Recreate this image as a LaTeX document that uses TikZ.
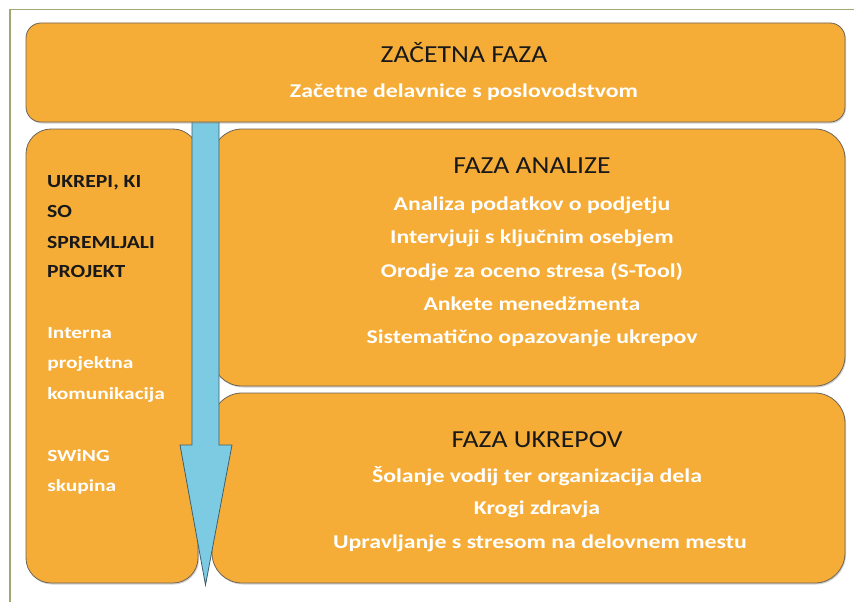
\documentclass[tikz,border=0pt]{standalone}
\usepackage{fontspec}
\setmainfont{Carlito}
\usetikzlibrary{shadows}
\definecolor{orng}{HTML}{F5AD38}
\definecolor{arrblue}{HTML}{7CCBE3}
\definecolor{framecol}{HTML}{9EAA72}
\definecolor{edgecol}{HTML}{6E6456}
\definecolor{arredge}{HTML}{3E5F6E}
\begin{document}
\begin{tikzpicture}[x=1pt,y=-1pt,
  box/.style={fill=orng, draw=edgecol, line width=0.8pt, inner sep=0pt,
    drop shadow={shadow xshift=1pt, shadow yshift=-1.5pt, opacity=0.35}},
  head/.style={font=\fontsize{24.5}{28}\selectfont, text=black!90, anchor=base, inner sep=0pt, xscale=1.13, transform shape},
  item/.style={font=\bfseries\fontsize{19.5}{23}\selectfont, text=white, anchor=base, inner sep=0pt, xscale=1.22, transform shape},
  lhead/.style={font=\bfseries\fontsize{18.5}{22}\selectfont, text=black!90, anchor=base west, inner sep=0pt, xscale=1.17, transform shape},
  litem/.style={font=\bfseries\fontsize{17}{20}\selectfont, text=white, anchor=base west, inner sep=0pt, xscale=1.26, transform shape}]
\useasboundingbox (0,0) rectangle (854,602);
\fill[white] (0,0) rectangle (854,602);
\draw[framecol, line width=1.3pt] (10,602) -- (10,9.5) -- (854,9.5);

% left box
\node[box, rounded corners=25pt, minimum width=172pt, minimum height=454pt] (left) at (112,356) {};
% right boxes
\node[box, rounded corners=30pt, minimum width=633pt, minimum height=257pt] (analiza) at (528.5,257.5) {};
\node[box, rounded corners=30pt, minimum width=633pt, minimum height=190pt] (ukrepi) at (528.5,488) {};

% arrow
\draw[fill=arrblue, draw=arredge, line width=0.8pt]
  (192,115) -- (219,115) -- (219,445) -- (232,445) -- (205.5,585) -- (180,445) -- (192,445) -- cycle;

% top box
\node[box, rounded corners=15pt, minimum width=819pt, minimum height=99pt] (top) at (435.5,72.5) {};

% texts top
\node[head] (t1) at (464,63) {ZAČETNA FAZA};
\node[item] (t2) at (464,97) {Začetne delavnice s poslovodstvom};

% analiza
\node[head] (a0) at (532,173) {FAZA ANALIZE};
\node[item] (a1) at (532,210) {Analiza podatkov o podjetju};
\node[item] (a2) at (532,243) {Intervjuji s ključnim osebjem};
\node[item] (a3) at (532,277) {Orodje za oceno stresa (S-Tool)};
\node[item] (a4) at (532,310) {Ankete menedžmenta};
\node[item] (a5) at (532,343) {Sistematično opazovanje ukrepov};

% ukrepi
\node[head] (u0) at (537,447) {FAZA UKREPOV};
\node[item] (u1) at (537,482) {Šolanje vodij ter organizacija dela};
\node[item] (u2) at (537,514) {Krogi zdravja};
\node[item] (u3) at (540,548) {Upravljanje s stresom na delovnem mestu};

% left texts
\node[lhead] (l1) at (47,187) {UKREPI, KI};
\node[lhead] (l2) at (47,217) {SO};
\node[lhead] (l3) at (47,248) {SPREMLJALI};
\node[lhead] (l4) at (47,277) {PROJEKT};
\node[litem] (l5) at (47,338) {Interna};
\node[litem] (l6) at (47,368) {projektna};
\node[litem] (l7) at (47,399) {komunikacija};
\node[litem] (l8) at (47,461) {SWiNG};
\node[litem] (l9) at (47,491) {skupina};
\end{tikzpicture}
\end{document}
